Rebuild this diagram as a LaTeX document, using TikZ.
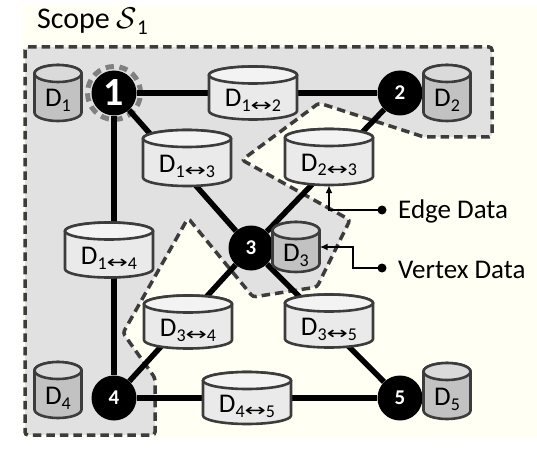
\RequirePackage{fix-cm}
\documentclass[tikz,border=0pt]{standalone}
\usepackage{fontspec}
\setmainfont{Carlito}
\newfontfamily\symf{DejaVu Sans}
\usetikzlibrary{arrows.meta,calc}
\definecolor{cream}{HTML}{FFFFF4}
\definecolor{scopegray}{HTML}{E1E1E1}
\definecolor{bordergray}{HTML}{3C3C3C}
\definecolor{ebodyc}{HTML}{EAEAEA}
\definecolor{etopc}{HTML}{F3F3F3}
\definecolor{sbodyc}{HTML}{C2C2C2}
\definecolor{stopc}{HTML}{DADADA}
\pgfdeclarelayer{bg}\pgfdeclarelayer{edgel}\pgfsetlayers{bg,edgel,main}
\tikzset{
  ebody/.style={fill=ebodyc,draw=bordergray,line width=2.6},
  etop/.style={fill=etopc,draw=bordergray,line width=2.6},
  sbody/.style={fill=sbodyc,draw=bordergray,line width=2.6},
  stop/.style={fill=stopc,draw=bordergray,line width=2.6},
  dlbl/.style={inner sep=0,font=\fontsize{27}{30}\selectfont},
  vtx/.style={circle,fill=black,minimum size=45,inner sep=0,text=white,font=\bfseries\fontsize{21}{21}\selectfont},
  edge/.style={line width=5.5,black},
  conn/.style={line width=2,black},
  bul/.style={circle,fill=black,inner sep=0,minimum size=9},
  lbltext/.style={inner sep=0,anchor=base west,font=\fontsize{27}{30}\selectfont},
}
\newcommand\dcyl[7]{%
 \filldraw[#6body] (#2-#4/2,-#3+#5/2-8.5) -- (#2-#4/2,-#3-#5/2+8.5) arc[start angle=180,end angle=360,x radius=#4/2,y radius=8.5] -- (#2+#4/2,-#3+#5/2-8.5) arc[start angle=0,end angle=180,x radius=#4/2,y radius=8.5] -- cycle;
 \filldraw[#6top] (#2,-#3+#5/2-8.5) ellipse[x radius=#4/2,y radius=8.5];
 \node[minimum width=#4,minimum height=#5,inner sep=0] (#1) at (#2,-#3) {};
 \node[dlbl,anchor=base] (#1t) at (#2,-#3-14) {D\raisebox{-5pt}{\fontsize{18}{18}\selectfont #7}};
}
\newcommand\arr{\raisebox{0.5pt}{\scalebox{1.5}[1.05]{\symf\fontsize{17}{17}\selectfont ↔}}}
\begin{document}
\begin{tikzpicture}[x=1pt,y=1pt]
\useasboundingbox (0,0) rectangle (537,-449);
\begin{pgfonlayer}{bg}
\fill[white] (0,0) rectangle (537,-449);
\fill[cream] (23,-5) rectangle (537,-438);
\filldraw[fill=scopegray,draw=bordergray,line width=3.5,dash pattern=on 8.5 off 5,rounded corners=3]
 (25,-47) -- (492,-47) -- (492,-137) -- (424,-137) -- (319,-103) -- (242,-160) -- (350,-220) -- (317,-287) -- (253,-297) -- (188,-218) -- (123,-333) -- (155,-378) -- (155,-435) -- (25,-435) -- cycle;
\end{pgfonlayer}
\node[inner sep=0,anchor=base west,font=\fontsize{30}{34}\selectfont] (title) at (37,-29) {Scope $\mathcal{S}$\raisebox{-6pt}{\fontsize{21}{21}\selectfont 1}};
% vertices
\node[vtx,font=\bfseries\fontsize{40}{40}\selectfont] (v1) at (114,-93) {1};
\node[vtx] (v2) at (400,-93) {2};
\node[vtx] (v3) at (251,-248) {3};
\node[vtx] (v4) at (114,-398) {4};
\node[vtx] (v5) at (400,-398) {5};
% edge data
\dcyl{d12}{253}{93}{88}{53}{e}{1\arr2}
\dcyl{d13}{187}{158}{88}{56}{e}{1\arr3}
\dcyl{d23}{329}{157}{88}{56}{e}{2\arr3}
\dcyl{d14}{109}{250}{88}{55}{e}{1\arr4}
\dcyl{d34}{188}{322}{88}{53}{e}{3\arr4}
\dcyl{d35}{329}{321}{88}{53}{e}{3\arr5}
\dcyl{d45}{247}{398}{88}{52}{e}{4\arr5}
% vertex data
\dcyl{d1}{58}{93}{47}{56}{s}{1}
\dcyl{d2}{447}{93}{47}{56}{s}{2}
\dcyl{d4}{58}{390}{47}{56}{s}{4}
\dcyl{d5}{447}{391}{47}{56}{s}{5}
\dcyl{d3}{296}{247}{47}{50}{s}{3}
\begin{pgfonlayer}{edgel}
\draw[draw=gray,line width=5,dash pattern=on 8.3 off 5.6] (v1.center) circle[radius=26.5];
\draw[edge] (v1) -- (v2);
\draw[edge] (v1) -- (v3);
\draw[edge] (v2) -- (v3);
\draw[edge] (v1) -- (v4);
\draw[edge] (v3) -- (v4);
\draw[edge] (v3) -- (v5);
\draw[edge] (v4) -- (v5);
\end{pgfonlayer}
% legend
\node[bul] (eb) at (382,-210) {};
\node[bul] (vb) at (382,-268) {};
\node[lbltext] (et) at (398,-218) {Edge Data};
\node[lbltext] (vt) at (398,-278) {Vertex Data};
\coordinate (vk) at (353,-268);
\draw[conn,-{Latex[length=8,width=7]}] (eb.center) -| (d23.south);
\draw[conn,-{Latex[length=8,width=7]}] (vb.center) -- (vk) |- (d3.east);
\end{tikzpicture}
\end{document}
